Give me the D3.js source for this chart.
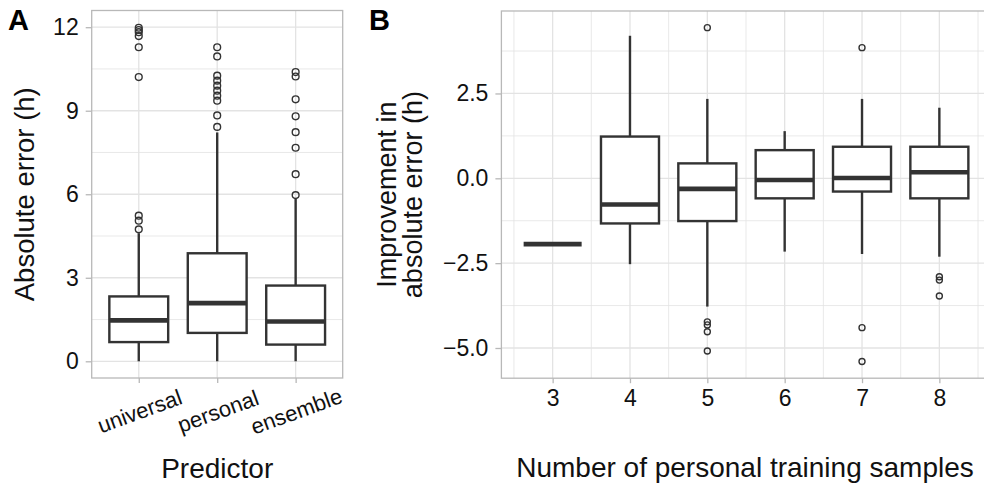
<!DOCTYPE html>
<html>
<head>
<meta charset="utf-8">
<script src="https://cdn.jsdelivr.net/npm/d3@7"></script>
<style>
  html, body { margin: 0; padding: 0; background: #fff; }
  svg { display: block; font-family: "Liberation Sans", Arial, Helvetica, sans-serif; }
</style>
</head>
<body>
<svg id="chart" width="984" height="489"></svg>
<script>
// Panel A: absolute error by predictor
const predictors = ["universal", "personal", "ensemble"];
const aWhiskLow = [0, 0, 0];
const aQ1 = [0.69, 1.02, 0.60];
const aMedian = [1.47, 2.09, 1.43];
const aQ3 = [2.33, 3.88, 2.72];
const aWhiskHigh = [4.60, 8.22, 5.85];
const aOutliers = [
  [4.74, 5.05, 5.23, 10.21, 11.28, 11.68, 11.82, 11.90, 11.98],
  [8.42, 8.83, 9.36, 9.54, 9.72, 9.90, 10.08, 10.26, 10.95, 11.28],
  [5.97, 6.72, 7.67, 8.23, 8.80, 9.41, 10.23, 10.39]
];
const aTicks = [0, 3, 6, 9, 12];
const aMinor = [1.5, 4.5, 7.5, 10.5];

// Panel B: improvement by number of personal training samples
const samples = [3, 4, 5, 6, 7, 8];
const bWhiskLow = [-1.94, -2.53, -3.78, -2.16, -2.23, -2.31];
const bQ1 = [-1.94, -1.33, -1.26, -0.59, -0.39, -0.59];
const bMedian = [-1.94, -0.77, -0.31, -0.05, 0.01, 0.18];
const bQ3 = [-1.94, 1.23, 0.44, 0.83, 0.93, 0.93];
const bWhiskHigh = [-1.94, 4.20, 2.34, 1.39, 2.34, 2.08];
const bOutliers = [
  [],
  [],
  [4.44, -4.23, -4.32, -4.52, -5.09],
  [],
  [3.85, -4.40, -5.40],
  [-2.90, -3.00, -3.47]
];
const bTicks = [-5.0, -2.5, 0.0, 2.5];
const bMinor = [-3.75, -1.25, 1.25, 3.75];
const bMinorX = [2.5, 3.5, 4.5, 5.5, 6.5, 7.5, 8.5];

const svg = d3.select("#chart");
const INK = "#333333";
const GRID = "#e3e3e3";
const BORDER = "#b8b8b8";
const TEXT = "#111111";
const FONT = "Liberation Sans, Arial, sans-serif";

function panelFrame(g, x0, x1, y0, y1) {
  g.append("rect")
    .attr("x", x0).attr("y", y0)
    .attr("width", x1 - x0).attr("height", y1 - y0)
    .attr("fill", "none").attr("stroke", BORDER).attr("stroke-width", 1.3);
}

function drawBoxes(g, positions, stats, halfWidth, r) {
  stats.forEach((s, i) => {
    const cx = positions[i];
    const b = g.append("g");
    // whiskers
    b.append("line").attr("x1", cx).attr("x2", cx)
      .attr("y1", s.y(s.q3)).attr("y2", s.y(s.hi))
      .attr("stroke", INK).attr("stroke-width", 2.4);
    b.append("line").attr("x1", cx).attr("x2", cx)
      .attr("y1", s.y(s.q1)).attr("y2", s.y(s.lo))
      .attr("stroke", INK).attr("stroke-width", 2.4);
    // box
    b.append("rect")
      .attr("x", cx - halfWidth).attr("width", 2 * halfWidth)
      .attr("y", s.y(s.q3)).attr("height", Math.max(0, s.y(s.q1) - s.y(s.q3)))
      .attr("fill", "#fff").attr("stroke", INK).attr("stroke-width", 2.4);
    // median
    b.append("line")
      .attr("x1", cx - halfWidth).attr("x2", cx + halfWidth)
      .attr("y1", s.y(s.med)).attr("y2", s.y(s.med))
      .attr("stroke", INK).attr("stroke-width", 4.6);
    // outliers
    b.selectAll("circle").data(s.out).join("circle")
      .attr("cx", cx).attr("cy", d => s.y(d)).attr("r", r)
      .attr("fill", "none").attr("stroke", INK).attr("stroke-width", 1.4);
  });
}

// ---------- Panel A ----------
{
  const L = 91.7, R = 342.7, T = 10.5, B = 378;
  const x = d3.scalePoint().domain(predictors).range([L, R]).padding(0.6);
  const y = d3.scaleLinear().domain([-0.6, 12.6]).range([B, T]);
  const g = svg.append("g");

  g.selectAll(".minor").data(aMinor).join("line")
    .attr("x1", L).attr("x2", R).attr("y1", d => y(d)).attr("y2", d => y(d))
    .attr("stroke", GRID).attr("stroke-width", 0.8);
  g.selectAll(".major").data(aTicks).join("line")
    .attr("x1", L).attr("x2", R).attr("y1", d => y(d)).attr("y2", d => y(d))
    .attr("stroke", GRID).attr("stroke-width", 1.3);
  g.selectAll(".vmajor").data(predictors).join("line")
    .attr("x1", d => x(d)).attr("x2", d => x(d)).attr("y1", T).attr("y2", B)
    .attr("stroke", GRID).attr("stroke-width", 1.3);

  const stats = predictors.map((p, i) => ({
    y, lo: aWhiskLow[i], q1: aQ1[i], med: aMedian[i], q3: aQ3[i], hi: aWhiskHigh[i], out: aOutliers[i]
  }));
  drawBoxes(g, predictors.map(p => x(p)), stats, x.step() * 0.375, 3.4);
  panelFrame(g, L, R, T, B);

  // y axis
  const ya = g.append("g").attr("transform", `translate(${L},0)`)
    .call(d3.axisLeft(y).tickValues(aTicks).tickFormat(d3.format("d")).tickSize(6).tickPadding(7));
  ya.select(".domain").remove();
  ya.selectAll(".tick line").attr("stroke", BORDER).attr("stroke-width", 1.3);
  ya.selectAll(".tick text").attr("fill", TEXT).attr("font-size", 23).attr("font-family", FONT);

  // x axis with slanted labels
  const xa = g.append("g").attr("transform", `translate(0,${B})`)
    .call(d3.axisBottom(x).tickSize(5).tickPadding(4));
  xa.select(".domain").remove();
  xa.selectAll(".tick line").attr("stroke", BORDER).attr("stroke-width", 1.3);
  xa.selectAll(".tick text").attr("fill", TEXT).attr("font-size", 22).attr("font-family", FONT)
    .attr("text-anchor", "middle").attr("dy", null).attr("y", null)
    .attr("transform", "translate(1,35) rotate(-20)")
    .attr("dominant-baseline", "middle");

  g.append("text").attr("x", (L + R) / 2).attr("y", 478)
    .attr("text-anchor", "middle").attr("font-size", 28).attr("fill", TEXT)
    .text("Predictor");
  g.append("text").attr("transform", `translate(34,${(T + B) / 2}) rotate(-90)`)
    .attr("text-anchor", "middle").attr("font-size", 27.5).attr("fill", TEXT)
    .text("Absolute error (h)");
  g.append("text").attr("x", 8).attr("y", 30)
    .attr("font-size", 29).attr("font-weight", "bold").attr("fill", "#000")
    .text("A");
}

// ---------- Panel B ----------
{
  const L = 501.4, R = 990.6, T = 11, B = 378.2;
  const x = d3.scaleLinear().domain([2.3375, 8.6625]).range([L, R]);
  const y = d3.scaleLinear().domain([-5.89, 4.93]).range([B, T]);
  const g = svg.append("g");

  g.selectAll(".minor").data(bMinor).join("line")
    .attr("x1", L).attr("x2", R).attr("y1", d => y(d)).attr("y2", d => y(d))
    .attr("stroke", GRID).attr("stroke-width", 0.8);
  g.selectAll(".vminor").data(bMinorX).join("line")
    .attr("x1", d => x(d)).attr("x2", d => x(d)).attr("y1", T).attr("y2", B)
    .attr("stroke", GRID).attr("stroke-width", 0.8);
  g.selectAll(".major").data(bTicks).join("line")
    .attr("x1", L).attr("x2", R).attr("y1", d => y(d)).attr("y2", d => y(d))
    .attr("stroke", GRID).attr("stroke-width", 1.3);
  g.selectAll(".vmajor").data(samples).join("line")
    .attr("x1", d => x(d)).attr("x2", d => x(d)).attr("y1", T).attr("y2", B)
    .attr("stroke", GRID).attr("stroke-width", 1.3);

  const stats = samples.map((s, i) => ({
    y, lo: bWhiskLow[i], q1: bQ1[i], med: bMedian[i], q3: bQ3[i], hi: bWhiskHigh[i], out: bOutliers[i]
  }));
  drawBoxes(g, samples.map(s => x(s)), stats, (x(1) - x(0)) * 0.375, 3.0);
  panelFrame(g, L, R, T, B);

  const ya = g.append("g").attr("transform", `translate(${L},0)`)
    .call(d3.axisLeft(y).tickValues(bTicks).tickFormat(d3.format(".1f")).tickSize(6).tickPadding(7));
  ya.select(".domain").remove();
  ya.selectAll(".tick line").attr("stroke", BORDER).attr("stroke-width", 1.3);
  ya.selectAll(".tick text").attr("fill", TEXT).attr("font-size", 23).attr("font-family", FONT)
    .text(d => d3.format(".1f")(d).replace("-", "\u2212"));

  const xa = g.append("g").attr("transform", `translate(0,${B})`)
    .call(d3.axisBottom(x).tickValues(samples).tickFormat(d3.format("d")).tickSize(5).tickPadding(6));
  xa.select(".domain").remove();
  xa.selectAll(".tick line").attr("stroke", BORDER).attr("stroke-width", 1.3);
  xa.selectAll(".tick text").attr("fill", TEXT).attr("font-size", 23).attr("font-family", FONT);

  g.append("text").attr("x", 745).attr("y", 477)
    .attr("text-anchor", "middle").attr("font-size", 28).attr("fill", TEXT)
    .text("Number of personal training samples");
  const yt = g.append("text").attr("transform", `translate(396,${(T + B) / 2}) rotate(-90)`)
    .attr("text-anchor", "middle").attr("font-size", 27).attr("fill", TEXT);
  yt.append("tspan").attr("x", 0).attr("dy", 0).text("Improvement in");
  yt.append("tspan").attr("x", 0).attr("dy", 26).text("absolute error (h)");
  g.append("text").attr("x", 369).attr("y", 30)
    .attr("font-size", 29).attr("font-weight", "bold").attr("fill", "#000")
    .text("B");
}
</script>
</body>
</html>
